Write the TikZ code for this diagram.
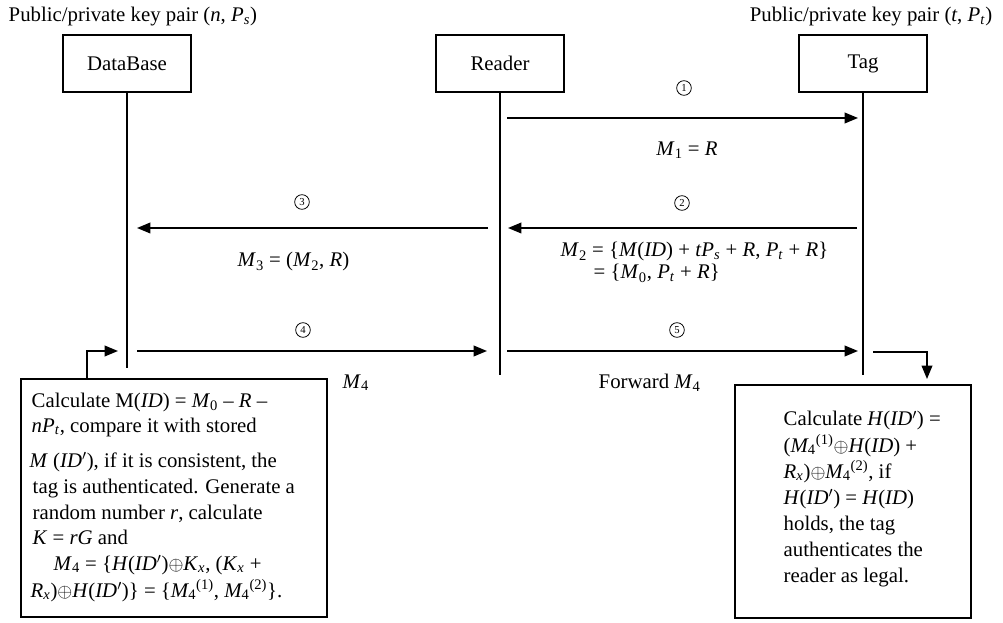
\documentclass[tikz,border=0pt]{standalone}
\usepackage{amsmath}
\usepackage{fontspec}
\setmainfont{Liberation Serif}
\usetikzlibrary{arrows.meta}
\newcommand{\mi}[1]{\textit{#1}}
\newcommand{\ms}[2]{\textit{#1}\textsubscript{#2}}
\newcommand{\msup}[3]{\ensuremath{{\textit{#1}_{\text{#2}}}^{\text{#3}}}}
\newcommand{\xor}{\ensuremath{\oplus}}
\newcommand{\pr}{\ensuremath{'}}
\begin{document}
\begin{tikzpicture}[x=0.75pt,y=-0.75pt,
  font=\fontsize{15.6}{18}\selectfont,
  line width=1.1pt,
  actor/.style={draw, line width=1.1pt, minimum width=96pt, minimum height=42.75pt, inner sep=0pt},
  msg/.style={-{Triangle[length=10pt,width=8pt]}, line width=1.1pt},
  num/.style={circle, draw, line width=0.6pt, inner sep=0pt, minimum size=11pt, font=\fontsize{8}{9}\selectfont},
  txt/.style={anchor=base west, inner sep=0pt},
  ctxt/.style={anchor=base, inner sep=0pt},
  box/.style={draw, line width=1.1pt, inner sep=0pt}]
\useasboundingbox (0,0) rectangle (1003,623);

% headers
\node[txt] (kp1) at (8,22) {Public/private key pair (\mi{n}, \ms{P}{\mi{s}})};
\node[anchor=base east, inner sep=0pt] (kp2) at (993,22) {Public/private key pair (\mi{t}, \ms{P}{\mi{t}})};

% actors
\node[actor] (db) at (127,63.5) {DataBase};
\node[actor] (rd) at (500,63.5) {Reader};
\node[actor] (tg) at (863,63.5) {Tag};

% lifelines
\coordinate (dbE) at (127,368);
\coordinate (rdE) at (500,375);
\coordinate (tgE) at (863,375);
\draw (db.south) -- (dbE);
\draw (rd.south) -- (rdE);
\draw (tg.south) -- (tgE);

% message end points
\coordinate (a1s) at (507,118); \coordinate (a1e) at (858,118);
\coordinate (a2s) at (857,228); \coordinate (a2e) at (508,228);
\coordinate (a3s) at (488,228); \coordinate (a3e) at (137,228);
\coordinate (a4s) at (137,351); \coordinate (a4e) at (487,351);
\coordinate (a5s) at (507,351); \coordinate (a5e) at (858,351);
\draw[msg] (a1s) -- (a1e);
\draw[msg] (a2s) -- (a2e);
\draw[msg] (a3s) -- (a3e);
\draw[msg] (a4s) -- (a4e);
\draw[msg] (a5s) -- (a5e);

% step numbers
\node[num] (c1) at (684,88) {1};
\node[num] (c2) at (682,203) {2};
\node[num] (c3) at (302,202) {3};
\node[num] (c4) at (303,330) {4};
\node[num] (c5) at (677,330) {5};

% message labels
\node[ctxt] (m1) at (687,156) {\ms{M}{1} = \mi{R}};
\node[txt] (m2a) at (560,257) {\ms{M}{2} = \{\mi{M}(\mi{ID}) + \mi{t}\ms{P}{\mi{s}} + \mi{R}, \ms{P}{\mi{t}} + \mi{R}\}};
\node[txt] (m2b) at (593,279) {= \{\ms{M}{0}, \ms{P}{\mi{t}} + \mi{R}\}};
\node[txt] (m3) at (237,267) {\ms{M}{3} = (\ms{M}{2}, \mi{R})};
\node[txt] (m4) at (342,388) {\ms{M}{4}};
\node[txt] (m5) at (598,389) {Forward \ms{M}{4}};

% left processing box
\node[box, minimum width=229.5pt, minimum height=178.5pt] (lb) at (174,498) {};
\node[txt] (l1) at (31,407) {Calculate M(\mi{ID}) = \ms{M}{0} -- \mi{R} --};
\node[txt] (l2) at (31,432) {\mi{n}\ms{P}{\mi{t}}, compare it with stored};
\node[txt] (l3) at (29,467) {\mi{M} (\mi{ID}\pr), if it is consistent, the};
\node[txt] (l4) at (32,493) {tag is authenticated. Generate a};
\node[txt] (l5) at (32,519) {random number \mi{r}, calculate};
\node[txt] (l6) at (32,544) {\mi{K} = \mi{rG} and};
\node[txt] (l7) at (53,570) {\ms{M}{4} = \{\mi{H}(\mi{ID}\pr)\xor\ms{K}{\mi{x}}, (\ms{K}{\mi{x}} +};
\node[txt] (l8) at (30,597) {\ms{R}{\mi{x}})\xor\mi{H}(\mi{ID}\pr)\} = \{\msup{M}{4}{(1)}, \msup{M}{4}{(2)}\}.};

% right processing box
\node[box, minimum width=177pt, minimum height=174.75pt] (rb) at (853,501.5) {};
\node[txt] (r1) at (783,426) {Calculate \mi{H}(\mi{ID}\pr) =};
\node[txt] (r2) at (783,452) {(\msup{M}{4}{(1)}\xor\mi{H}(\mi{ID}) +};
\node[txt] (r3) at (783,478) {\ms{R}{\mi{x}})\xor\msup{M}{4}{(2)}, if};
\node[txt] (r4) at (783,504) {\mi{H}(\mi{ID}\pr) = \mi{H}(\mi{ID})};
\node[txt] (r5) at (783,530) {holds, the tag};
\node[txt] (r6) at (783,556) {authenticates the};
\node[txt] (r7) at (783,582) {reader as legal.};

% feedback arrows
\coordinate (f1) at (87,379); \coordinate (f1e) at (118,351);
\draw[msg] (f1) |- (f1e);
\coordinate (f2) at (873,352); \coordinate (f2e) at (927,379);
\draw[msg] (f2) -| (f2e);
\end{tikzpicture}
\end{document}
